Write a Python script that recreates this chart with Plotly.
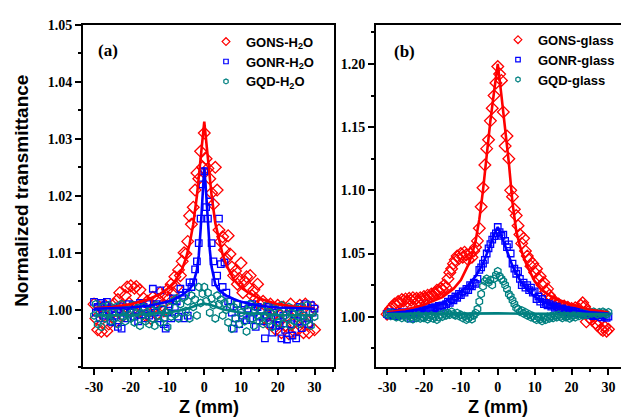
import plotly.graph_objects as go

# ---------------- data ----------------
z_scan = [-30, -29.5, -29, -28.5, -28, -27.5, -27, -26.5, -26, -25.5,
          -25, -24.5, -24, -23.5, -23, -22.5, -22, -21.5, -21, -20.5,
          -20, -19.5, -19, -18.5, -18, -17.5, -17, -16.5, -16, -15.5,
          -15, -14.5, -14, -13.5, -13, -12.5, -12, -11.5, -11, -10.5,
          -10, -9.5, -9, -8.5, -8, -7.5, -7, -6.5, -6, -5.5,
          -5, -4.5, -4, -3.5, -3, -2.5, -2, -1.5, -1, -0.5,
          0,
          0.5, 1, 1.5, 2, 2.5, 3, 3.5, 4, 4.5, 5,
          5.5, 6, 6.5, 7, 7.5, 8, 8.5, 9, 9.5, 10,
          10.5, 11, 11.5, 12, 12.5, 13, 13.5, 14, 14.5, 15,
          15.5, 16, 16.5, 17, 17.5, 18, 18.5, 19, 19.5, 20,
          20.5, 21, 21.5, 22, 22.5, 23, 23.5, 24, 24.5, 25,
          25.5, 26, 26.5, 27, 27.5, 28, 28.5, 29, 29.5, 30]

# panel (a): H2O
gons_h2o = [1.0010, 0.9985, 0.9965, 1.0005, 0.9962, 0.9990, 1.0008, 0.9963, 0.9975, 1.0002,
            0.9995, 1.0010, 0.9980, 1.0018, 1.0030, 1.0008, 0.9990, 1.0025, 1.0040, 1.0012,
            1.0042, 1.0000, 1.0038, 1.0041, 0.9995, 1.0035, 1.0005, 1.0020, 0.9990, 1.0015,
            1.0010, 0.9985, 1.0022, 1.0005, 0.9992, 1.0018, 1.0030, 1.0008, 0.9998, 1.0025,
            1.0035, 1.0020, 1.0045, 1.0030, 1.0058, 1.0040, 1.0070, 1.0060, 1.0085, 1.0100,
            1.0098, 1.0120, 1.0165, 1.0150, 1.0180, 1.0210, 1.0240, 1.0230, 1.0278, 1.0250,
            1.0310,
            1.0265, 1.0248, 1.0230, 1.0205, 1.0185, 1.0250, 1.0210, 1.0140, 1.0120, 1.0128,
            1.0105, 1.0090, 1.0130, 1.0098, 1.0075, 1.0060, 1.0068, 1.0045, 1.0055, 1.0082,
            1.0030, 1.0050, 1.0058, 1.0040, 1.0060, 1.0025, 1.0035, 1.0020, 1.0045, 1.0010,
            1.0000, 1.0015, 0.9985, 1.0005, 0.9975, 1.0010, 0.9990, 1.0000, 0.9965, 1.0008,
            0.9980, 0.9960, 1.0005, 0.9972, 0.9990, 0.9958, 1.0010, 0.9975, 0.9962, 0.9998,
            0.9965, 1.0008, 0.9985, 0.9960, 1.0010, 0.9975, 0.9960, 0.9995, 1.0005, 0.9965]

gonr_h2o = [1.0014, 0.9995, 1.0005, 0.9985, 1.0012, 0.9990, 1.0008, 1.0014, 0.9998, 0.9980,
            0.9978, 1.0002, 0.9990, 0.9970, 1.0006, 0.9967, 0.9995, 1.0000, 0.9985, 1.0010,
            0.9995, 1.0008, 0.9988, 1.0000, 0.9980, 1.0012, 0.9992, 1.0005, 0.9985, 1.0010,
            0.9990, 1.0002, 1.0037, 0.9995, 1.0010, 0.9985, 1.0034, 1.0000, 0.9975, 0.9967,
            0.9995, 1.0010, 0.9985, 1.0020, 1.0005, 1.0015, 0.9988, 1.0037, 1.0025, 0.9985,
            1.0030, 0.9990, 1.0048, 1.0040, 1.0048, 1.0071, 1.0085, 1.0117, 1.0160, 1.0220,
            1.0243,
            1.0180, 1.0160, 1.0190, 1.0117, 1.0085, 1.0048, 1.0060, 1.0160, 1.0080, 1.0040,
            1.0083, 1.0030, 1.0015, 1.0005, 0.9995, 0.9967, 0.9985, 1.0010, 0.9975, 1.0000,
            0.9990, 1.0008, 0.9982, 1.0002, 0.9985, 1.0010, 0.9995, 0.9970, 1.0005, 0.9988,
            1.0000, 0.9980, 0.9950, 0.9990, 1.0005, 0.9975, 0.9960, 0.9995, 0.9972, 0.9985,
            0.9973, 0.9950, 0.9990, 0.9965, 0.9948, 1.0002, 0.9975, 0.9955, 0.9992, 0.9950,
            0.9980, 1.0005, 0.9968, 0.9990, 1.0010, 0.9985, 0.9975, 1.0008, 0.9995, 1.0002]

gqd_h2o = [0.9990, 1.0010, 0.9975, 0.9998, 0.9970, 1.0005, 0.9985, 0.9992, 1.0008, 0.9980,
           0.9995, 0.9985, 1.0005, 0.9975, 0.9998, 1.0010, 0.9988, 0.9980, 1.0000, 0.9992,
           0.9985, 1.0008, 0.9978, 0.9995, 1.0003, 0.9972, 0.9990, 1.0005, 0.9980, 0.9995,
           0.9975, 1.0000, 0.9985, 0.9972, 1.0008, 0.9990, 0.9978, 1.0002, 0.9985, 0.9995,
           0.9970, 1.0005, 0.9988, 1.0015, 0.9992, 1.0020, 0.9985, 1.0010, 0.9995, 1.0022,
           0.9998, 1.0015, 0.9985, 1.0025, 1.0005, 1.0018, 0.9990, 1.0040, 1.0012, 1.0028,
           1.0040,
           1.0015, 1.0030, 0.9995, 1.0020, 1.0008, 0.9985, 1.0025, 1.0010, 1.0018, 0.9990,
           1.0012, 1.0000, 0.9978, 1.0015, 0.9967, 1.0005, 0.9985, 1.0010, 0.9975, 0.9995,
           1.0008, 0.9980, 0.9962, 0.9998, 1.0010, 0.9985, 0.9972, 1.0005, 0.9990, 0.9980,
           1.0000, 0.9975, 0.9990, 1.0008, 0.9982, 0.9995, 0.9970, 1.0003, 0.9988, 0.9978,
           0.9995, 1.0008, 0.9975, 0.9990, 0.9985, 1.0005, 0.9972, 0.9995, 0.9980, 1.0002,
           0.9988, 0.9975, 1.0005, 0.9990, 0.9980, 1.0008, 0.9985, 0.9972, 0.9995, 0.9988]

# fitted curves, panel (a)
z_fit_gons_a = [-30, -25, -20, -15, -12, -10, -8, -6, -5, -4, -3, -2, -1, 0,
                1, 2, 3, 4, 5, 6, 8, 10, 12, 15, 20, 25, 30]
fit_gons_a = [1.0003, 1.0005, 1.0010, 1.0019, 1.0028, 1.0037, 1.0050, 1.0072, 1.0090, 1.0115,
              1.0150, 1.0200, 1.0265, 1.0330, 1.0265, 1.0200, 1.0152, 1.0122, 1.0097, 1.0079,
              1.0053, 1.0039, 1.0030, 1.0020, 1.0010, 1.0005, 1.0003]
z_fit_gonr_a = [-30, -20, -15, -10, -8, -6, -4, -3, -2, -1.5, -1, -0.5, 0,
                0.5, 1, 1.5, 2, 3, 4, 6, 8, 10, 15, 20, 30]
fit_gonr_a = [1.0002, 1.0004, 1.0007, 1.0014, 1.0019, 1.0026, 1.0036, 1.0046, 1.0070, 1.0095,
              1.0140, 1.0200, 1.0250, 1.0205, 1.0150, 1.0105, 1.0075, 1.0045, 1.0034, 1.0025,
              1.0019, 1.0014, 1.0007, 1.0004, 1.0002]
z_fit_gqd_a = [-30, -20, -10, -5, -2, 0, 2, 5, 10, 20, 30]
fit_gqd_a = [0.9990, 0.9991, 0.9995, 1.0001, 1.0008, 1.0011, 1.0008, 1.0001, 0.9995, 0.9991, 0.9990]

# panel (b): glass
gons_glass = [1.0020, 1.0045, 1.0065, 1.0080, 1.0100, 1.0090, 1.0120, 1.0110, 1.0135, 1.0125,
              1.0140, 1.0120, 1.0145, 1.0130, 1.0150, 1.0135, 1.0145, 1.0125, 1.0150, 1.0140,
              1.0160, 1.0145, 1.0170, 1.0155, 1.0180, 1.0165, 1.0190, 1.0210, 1.0200, 1.0225,
              1.0215, 1.0250, 1.0230, 1.0300, 1.0350, 1.0380, 1.0420, 1.0450, 1.0480, 1.0460,
              1.0500, 1.0470, 1.0510, 1.0490, 1.0450, 1.0500, 1.0470, 1.0520, 1.0550, 1.0600,
              1.0700, 1.0870, 1.1020, 1.1200, 1.1330, 1.1400, 1.1550, 1.1650, 1.1750, 1.1850,
              1.1980,
              1.1920, 1.1870, 1.1620, 1.1350, 1.1430, 1.1250, 1.1000, 1.0950, 1.0850, 1.0800,
              1.0720, 1.0650, 1.0580, 1.0620, 1.0520, 1.0480, 1.0450, 1.0400, 1.0420, 1.0350,
              1.0380, 1.0300, 1.0320, 1.0250, 1.0270, 1.0200, 1.0220, 1.0170, 1.0150, 1.0120,
              1.0110, 1.0090, 1.0100, 1.0080, 1.0070, 1.0085, 1.0060, 1.0075, 1.0050, 1.0065,
              1.0055, 1.0070, 1.0040, 1.0060, 1.0090, 1.0110, 1.0080, 0.9960, 1.0040, 0.9985,
              0.9975, 1.0010, 0.9950, 0.9930, 0.9965, 0.9900, 0.9890, 0.9920, 0.9885, 0.9900]

gonr_glass = [1.0020, 1.0010, 1.0035, 1.0015, 1.0030, 1.0005, 1.0025, 1.0010, 1.0035, 1.0020,
              1.0030, 1.0015, 1.0040, 0.9985, 1.0035, 1.0020, 1.0045, 1.0030, 1.0050, 1.0040,
              1.0055, 1.0045, 1.0060, 1.0050, 1.0070, 1.0060, 1.0075, 1.0065, 1.0085, 1.0070,
              1.0090, 1.0080, 1.0100, 1.0120, 1.0110, 1.0140, 1.0130, 1.0160, 1.0150, 1.0180,
              1.0170, 1.0200, 1.0190, 1.0220, 1.0210, 1.0250, 1.0240, 1.0270, 1.0260, 1.0300,
              1.0370, 1.0390, 1.0420, 1.0450, 1.0500, 1.0540, 1.0575, 1.0610, 1.0638, 1.0660,
              1.0710,
              1.0670, 1.0640, 1.0650, 1.0600, 1.0550, 1.0573, 1.0500, 1.0420, 1.0380, 1.0340,
              1.0360, 1.0300, 1.0250, 1.0270, 1.0230, 1.0250, 1.0210, 1.0230, 1.0190, 1.0200,
              1.0140, 1.0160, 1.0120, 1.0140, 1.0100, 1.0110, 1.0090, 1.0100, 1.0080, 1.0090,
              1.0070, 1.0080, 1.0060, 1.0050, 1.0065, 1.0040, 1.0055, 1.0045, 1.0035, 1.0050,
              1.0030, 1.0045, 1.0025, 1.0040, 1.0020, 1.0035, 1.0015, 1.0030, 1.0025, 1.0010,
              1.0020, 1.0005, 1.0025, 1.0010, 1.0015, 0.9995, 1.0010, 1.0000, 0.9990, 1.0000]

gqd_glass = [1.0020, 1.0030, 1.0005, 1.0025, 1.0010, 0.9995, 1.0020, 1.0005, 0.9990, 1.0015,
             1.0000, 0.9985, 1.0010, 0.9995, 0.9980, 1.0005, 0.9990, 1.0010, 0.9985, 1.0000,
             0.9990, 1.0005, 0.9980, 0.9995, 1.0010, 0.9985, 1.0000, 0.9975, 0.9995, 1.0015,
             1.0000, 1.0025, 1.0010, 1.0030, 1.0015, 1.0040, 1.0020, 1.0010, 1.0030, 1.0005,
             1.0015, 0.9990, 1.0005, 0.9975, 0.9985, 1.0000, 0.9980, 1.0010, 1.0030, 1.0060,
             1.0120, 1.0180, 1.0240, 1.0280, 1.0300, 1.0270, 1.0290, 1.0250, 1.0300, 1.0330,
             1.0360,
             1.0320, 1.0300, 1.0280, 1.0250, 1.0220, 1.0180, 1.0160, 1.0130, 1.0100, 1.0070,
             1.0060, 1.0040, 1.0050, 1.0025, 1.0035, 1.0010, 1.0020, 0.9995, 1.0005, 0.9985,
             0.9975, 0.9995, 0.9980, 0.9965, 0.9990, 0.9975, 1.0000, 0.9985, 1.0005, 0.9990,
             1.0010, 0.9995, 1.0015, 1.0000, 0.9990, 1.0010, 0.9995, 1.0005, 0.9985, 1.0000,
             1.0010, 0.9995, 1.0020, 1.0005, 1.0025, 1.0010, 1.0030, 1.0015, 1.0020, 1.0035,
             1.0025, 1.0040, 1.0030, 1.0020, 1.0035, 1.0025, 1.0040, 1.0030, 1.0020, 1.0035]

# fitted curves, panel (b)
z_fit_gons_b = [-30, -25, -20, -15, -12, -10, -8, -7, -6, -5, -4, -3, -2, -1, 0,
                1, 2, 3, 4, 5, 6, 7, 8, 10, 12, 15, 20, 25, 30]
fit_gons_b = [1.0035, 1.0055, 1.0095, 1.0155, 1.0220, 1.0290, 1.0410, 1.0490, 1.0600, 1.0770,
              1.1000, 1.1300, 1.1550, 1.1780, 1.2000, 1.1750, 1.1500, 1.1220, 1.0900, 1.0680,
              1.0560, 1.0470, 1.0400, 1.0280, 1.0210, 1.0150, 1.0095, 1.0055, 1.0035]
z_fit_gonr_b = [-30, -25, -20, -15, -12, -10, -8, -6, -4, -3, -2, -1, 0,
                1, 2, 3, 4, 6, 8, 10, 12, 15, 20, 25, 30]
fit_gonr_b = [1.0025, 1.0040, 1.0065, 1.0110, 1.0155, 1.0195, 1.0250, 1.0320, 1.0420, 1.0490,
              1.0570, 1.0650, 1.0710, 1.0640, 1.0560, 1.0480, 1.0400, 1.0290, 1.0210, 1.0160,
              1.0120, 1.0085, 1.0055, 1.0035, 1.0025]
z_fit_gqd_b = [-30, -15, 0, 15, 30]
fit_gqd_b = [1.0020, 1.0022, 1.0026, 1.0022, 1.0020]

x_tick_vals = [-30, -20, -10, 0, 10, 20, 30]
x_tick_text = ["-30", "-20", "-10", "0", "10", "20", "30"]
y_tick_vals_a = [1.00, 1.01, 1.02, 1.03, 1.04, 1.05]
y_tick_text_a = ["1.00", "1.01", "1.02", "1.03", "1.04", "1.05"]
y_tick_vals_b = [1.00, 1.05, 1.10, 1.15, 1.20]
y_tick_text_b = ["1.00", "1.05", "1.10", "1.15", "1.20"]

# ---------------- styling ----------------
RED, BLUE, TEAL = "#FF0000", "#0000FF", "#008080"
W, H = 621, 417
SANS = "Liberation Sans, Arial, sans-serif"
SERIF = "Liberation Serif, Times New Roman, serif"

fig = go.Figure()

def add_points(x, y, color, symbol, size, xa, ya):
    fig.add_trace(go.Scatter(
        x=x, y=y, mode="markers", showlegend=False, xaxis=xa, yaxis=ya,
        marker=dict(symbol=symbol, size=size, color=color,
                    line=dict(color=color, width=1.3)),
    ))

def add_key(name, color, symbol, size, xa, ya, legend):
    # legend-only entry (no data drawn) so the legend symbol can be small
    fig.add_trace(go.Scatter(
        x=[None], y=[None], mode="markers", name=name, xaxis=xa, yaxis=ya, legend=legend,
        marker=dict(symbol=symbol, size=size, color=color, line=dict(color=color, width=1.2)),
    ))

def add_fit(x, y, color, xa, ya):
    fig.add_trace(go.Scatter(
        x=x, y=y, mode="lines", showlegend=False, xaxis=xa, yaxis=ya,
        line=dict(color=color, width=2.6), hoverinfo="skip",
    ))

add_points(z_scan, gons_h2o, RED, "diamond-open", 9, "x", "y")
add_points(z_scan, gonr_h2o, BLUE, "square-open", 6.5, "x", "y")
add_points(z_scan, gqd_h2o, TEAL, "hexagon-open", 7.5, "x", "y")
add_fit(z_fit_gons_a, fit_gons_a, RED, "x", "y")
add_fit(z_fit_gonr_a, fit_gonr_a, BLUE, "x", "y")
add_fit(z_fit_gqd_a, fit_gqd_a, TEAL, "x", "y")
add_key("<b>GONS-H<sub>2</sub>O</b>", RED, "diamond-open", 6, "x", "y", "legend")
add_key("<b>GONR-H<sub>2</sub>O</b>", BLUE, "square-open", 4.5, "x", "y", "legend")
add_key("<b>GQD-H<sub>2</sub>O</b>", TEAL, "hexagon-open", 5, "x", "y", "legend")

add_points(z_scan, gons_glass, RED, "diamond-open", 9, "x2", "y2")
add_points(z_scan, gonr_glass, BLUE, "square-open", 6.5, "x2", "y2")
add_points(z_scan, gqd_glass, TEAL, "hexagon-open", 7.5, "x2", "y2")
add_fit(z_fit_gons_b, fit_gons_b, RED, "x2", "y2")
add_fit(z_fit_gonr_b, fit_gonr_b, BLUE, "x2", "y2")
add_fit(z_fit_gqd_b, fit_gqd_b, TEAL, "x2", "y2")
add_key("<b>GONS-glass</b>", RED, "diamond-open", 6, "x2", "y2", "legend2")
add_key("<b>GONR-glass</b>", BLUE, "square-open", 4.5, "x2", "y2", "legend2")
add_key("<b>GQD-glass</b>", TEAL, "hexagon-open", 5, "x2", "y2", "legend2")

ytop = 1 - 18 / H
ybot = 1 - 366 / H

tickfont = dict(family=SERIF, size=14, color="black", weight="bold")
common_x = dict(
    tickvals=x_tick_vals, ticktext=x_tick_text, ticks="outside", ticklen=6, tickwidth=1.5,
    tickcolor="black", showline=True, linecolor="black", linewidth=2, showgrid=False,
    zeroline=False, tickfont=tickfont,
    minor=dict(ticks="outside", ticklen=3, tickwidth=1.5, tickcolor="black", dtick=5, tick0=0, showgrid=False),
)
common_y = dict(
    ticks="outside", ticklen=6, tickwidth=1.5, tickcolor="black", showline=True,
    linecolor="black", linewidth=2, showgrid=False, zeroline=False, tickfont=tickfont,
)

fig.update_layout(
    width=W, height=H, margin=dict(l=0, r=0, t=0, b=0),
    paper_bgcolor="white", plot_bgcolor="white", showlegend=True,
    xaxis=dict(domain=[83 / W, 334 / W], range=[-33, 35.3], anchor="y", mirror=True, **common_x),
    yaxis=dict(domain=[ybot, ytop], range=[0.99, 1.05], anchor="x", mirror=True,
               tickvals=y_tick_vals_a, ticktext=y_tick_text_a,
               minor=dict(ticks="outside", ticklen=3, tickwidth=1.5, tickcolor="black",
                          dtick=0.005, tick0=1.0, showgrid=False),
               **common_y),
    xaxis2=dict(domain=[376 / W, 1.0], range=[-33, 33.4], anchor="y2", mirror=True, **common_x),
    yaxis2=dict(domain=[ybot, ytop], range=[0.9603, 1.2311], anchor="x2", mirror=False,
                tickvals=y_tick_vals_b, ticktext=y_tick_text_b,
                minor=dict(ticks="outside", ticklen=3, tickwidth=1.5, tickcolor="black",
                           dtick=0.025, tick0=1.0, showgrid=False),
                **common_y),
    legend=dict(x=206 / W, y=1 - 20 / H, xanchor="left", yanchor="top",
                bgcolor="rgba(0,0,0,0)", borderwidth=0, tracegroupgap=0,
                font=dict(family=SANS, size=13, color="black")),
    legend2=dict(x=498 / W, y=1 - 18 / H, xanchor="left", yanchor="top",
                 bgcolor="rgba(0,0,0,0)", borderwidth=0, tracegroupgap=0,
                 font=dict(family=SANS, size=13, color="black")),
)

annotations = [
    dict(text="<b>Normalized transmittance</b>", x=22 / W, y=1 - 187 / H, xref="paper", yref="paper",
         textangle=-90, showarrow=False, font=dict(family=SANS, size=19, color="black"),
         xanchor="center", yanchor="middle"),
    dict(text="<b>Z (mm)</b>", x=209 / W, y=1 - 407 / H, xref="paper", yref="paper",
         showarrow=False, font=dict(family=SANS, size=18, color="black"),
         xanchor="center", yanchor="middle"),
    dict(text="<b>Z (mm)</b>", x=498 / W, y=1 - 407 / H, xref="paper", yref="paper",
         showarrow=False, font=dict(family=SANS, size=18, color="black"),
         xanchor="center", yanchor="middle"),
    dict(text="<b>(a)</b>", x=96 / W, y=1 - 44 / H, xref="paper", yref="paper",
         showarrow=False, font=dict(family=SERIF, size=17, color="black"),
         xanchor="left", yanchor="middle"),
    dict(text="<b>(b)</b>", x=392 / W, y=1 - 45 / H, xref="paper", yref="paper",
         showarrow=False, font=dict(family=SERIF, size=17, color="black"),
         xanchor="left", yanchor="middle"),
]
fig.update_layout(annotations=annotations)

fig.write_html("out.html", config={"displayModeBar": False},
               post_script="document.body.style.margin='0';document.body.style.padding='0';"
                           "document.documentElement.style.overflow='hidden';")
